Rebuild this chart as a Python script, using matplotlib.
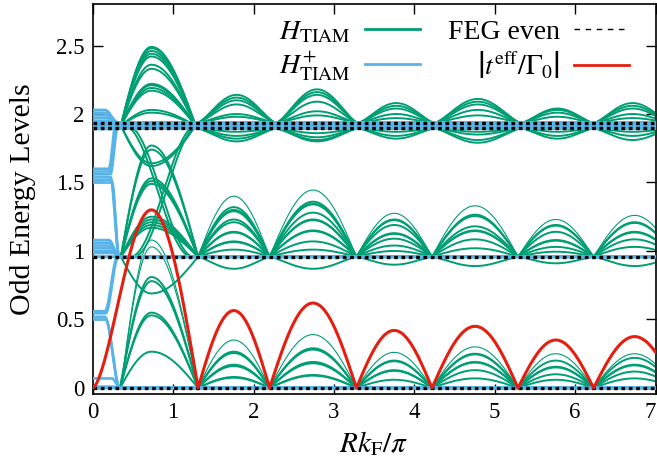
import numpy as np
import matplotlib
matplotlib.use('Agg')
import matplotlib.pyplot as plt
from matplotlib.lines import Line2D
from matplotlib import ticker

plt.rcParams['font.family'] = ['Liberation Serif', 'DejaVu Serif']
plt.rcParams['mathtext.fontset'] = 'stix'

GREEN = '#009e73'
BLUE = '#56b4e9'
RED = '#e51e10'

# ---------------- data ----------------
NODES_LOW = [1.31, 2.20, 3.28, 4.22, 5.29, 6.23, 7.25]     # lower / middle band nodes
NODES_UP = [1.30, 2.28, 3.30, 4.25, 5.33, 6.23, 7.20]      # upper band nodes
FEG_LEVELS = [0.0, 0.958, 1.895, 1.935]

# red |t_eff/Gamma0|
RED_LOBE0 = [0.0, 0.73, 1.31]     # start, peak position, end
RED_PEAK0 = 1.30
RED_PEAKS = [0.565, 0.62, 0.42, 0.45, 0.35, 0.375]

# lower band peaks per lobe (first entry is thin)
LOW_PEAKS = [
    [0.35, 0.265, 0.255, 0.17, 0.16, 0.08, 0.075],
    [0.39, 0.29, 0.28, 0.19, 0.18, 0.095, 0.09],
    [0.26, 0.20, 0.195, 0.13, 0.125, 0.06],
    [0.30, 0.25, 0.245, 0.19, 0.185, 0.13, 0.07],
    [0.25, 0.20, 0.155, 0.15, 0.10, 0.06],
    [0.25, 0.22, 0.17, 0.165, 0.12, 0.07],
]
# middle band peaks per lobe (above 0.958) and dips
MID_PEAKS = [
    [1.40, 1.32, 1.30, 1.29, 1.23, 1.21, 1.14, 1.135, 1.07, 1.065, 1.01],
    [1.445, 1.36, 1.345, 1.34, 1.28, 1.23, 1.225, 1.15, 1.145, 1.07, 1.01],
    [1.275, 1.23, 1.225, 1.19, 1.13, 1.125, 1.09, 1.04, 1.0],
    [1.33, 1.265, 1.255, 1.18, 1.15, 1.145, 1.085, 1.02],
    [1.23, 1.19, 1.185, 1.14, 1.08, 1.075, 1.03, 0.995],
    [1.26, 1.21, 1.205, 1.14, 1.135, 1.085, 1.03],
]
MID_DIPS = [0.87, 0.87, 0.90, 0.89, 0.91, 0.89]
# upper band per lobe
UP_PEAKS = [
    [2.14, 2.12, 2.10, 2.07, 2.00, 1.98],
    [2.18, 2.16, 2.14, 2.09, 2.02, 1.99],
    [2.08, 2.06, 2.04, 2.00, 1.97],
    [2.11, 2.09, 2.07, 2.03, 1.99],
    [2.04, 2.03, 2.01, 1.98],
    [2.08, 2.06, 2.04, 2.00, 1.97],
]
UP_DIPS = [
    [1.87, 1.84, 1.82, 1.80],
    [1.86, 1.83, 1.81, 1.80],
    [1.87, 1.84, 1.82],
    [1.87, 1.85, 1.81, 1.79],
    [1.87, 1.84, 1.82],
    [1.87, 1.84, 1.81],
]
# first lobe (0.34 .. 1.31, extremum near 0.73)
FIRST_LOBE = [0.34, 0.73, 1.31]
FIRST_LOW = [0.265, 0.53, 0.55, 0.78, 0.81]
FIRST_LOW_THIN = [1.03, 1.08]
FIRST_MID = [1.17, 1.19, 1.21, 1.23, 1.25, 1.49, 1.51, 1.53, 1.74, 1.77]
FIRST_MID_DIP = [0.69]
FIRST_UP = [2.49, 2.48, 2.46, 2.44, 2.42, 2.36, 2.33, 2.22, 2.21, 2.19, 2.17, 2.03, 2.01]
FIRST_UP_DIP = [1.64, 1.62]
FIRST_CROSS = [(1.915, 0.958), (1.915, 0.958), (0.958, 1.915), (0.958, 1.915)]

# blue H+_TIAM: start level, transition start, transition end, final level
BLUE_START = [2.03, 2.01, 1.99, 1.97, 1.95, 1.93, 1.91, 1.89,
              1.60, 1.58, 1.56, 1.54, 1.52, 1.50,
              1.08, 1.06, 1.04, 1.02, 1.00, 0.985,
              0.56, 0.545, 0.52, 0.50, 0.07, 0.01]
BLUE_XS = [0.15, 0.16, 0.17, 0.18, 0.19, 0.20, 0.20, 0.20,
           0.20, 0.21, 0.22, 0.22, 0.23, 0.24,
           0.20, 0.21, 0.22, 0.23, 0.24, 0.25,
           0.15, 0.16, 0.15, 0.16, 0.24, 0.25]
BLUE_XE = [0.32, 0.32, 0.32, 0.32, 0.32, 0.32, 0.32, 0.32,
           0.29, 0.30, 0.31, 0.33, 0.33, 0.33,
           0.33, 0.33, 0.33, 0.33, 0.33, 0.33,
           0.31, 0.32, 0.34, 0.34, 0.34, 0.34]
BLUE_END = [1.935, 1.935, 1.935, 1.915, 1.915, 1.915, 1.895, 1.895,
            1.935, 1.915, 1.895, 0.958, 0.958, 0.958,
            0.958, 0.958, 0.958, 0.958, 0.958, 0.958,
            0.958, 0.958, 0.0, 0.0, 0.0, 0.0]

XTICKS = [0, 1, 2, 3, 4, 5, 6, 7]
YTICKS = [0, 0.5, 1, 1.5, 2, 2.5]


# ---------------- helpers ----------------
x = np.linspace(0, 7, 4000)


def bump(a, c, b, p=1.0):
    y = np.full_like(x, np.nan)
    m1 = (x >= a) & (x <= c)
    y[m1] = np.sin(0.5 * np.pi * (x[m1] - a) / (c - a)) ** p
    m2 = (x > c) & (x <= b)
    y[m2] = np.sin(0.5 * np.pi * (b - x[m2]) / (b - c)) ** p
    return y


def step(a, b):
    s = np.clip((x - a) / (b - a), 0, 1)
    return 0.5 - 0.5 * np.cos(np.pi * s)


fig = plt.figure(figsize=(6.57, 4.66), dpi=100)
ax = fig.add_axes([92.7 / 657, 1 - 394 / 466, (655.5 - 92.7) / 657, (394 - 4) / 466])

gk = dict(color=GREEN, zorder=2, solid_capstyle='butt')
THICK, THIN = 1.4, 0.8

# first lobe
a0, c0, b0 = FIRST_LOBE
for pk in FIRST_LOW:
    ax.plot(x, 0 + pk * bump(a0, c0, b0), lw=THICK, **gk)
for pk in FIRST_LOW_THIN:
    ax.plot(x, 0 + pk * bump(a0 + 0.01, c0, b0), lw=THIN, **gk)
for pk in FIRST_MID + FIRST_MID_DIP:
    ax.plot(x, 0.958 + (pk - 0.958) * bump(a0 + 0.01, c0, b0), lw=THICK, **gk)
for pk in FIRST_UP + FIRST_UP_DIP:
    ax.plot(x, 1.915 + (pk - 1.915) * bump(a0 + 0.01, c0, b0 - 0.03), lw=THICK, **gk)
for k, (s, e) in enumerate(FIRST_CROSS):
    aa, bb = a0 + 0.05 + 0.04 * k, b0 - 0.08 + 0.03 * k
    yy = s + (e - s) * step(aa, bb)
    yy[(x < a0) | (x > b0)] = np.nan
    ax.plot(x, yy, lw=THICK, **gk)

# later lobes
for i in range(6):
    a, b = NODES_LOW[i], NODES_LOW[i + 1]
    c = 0.5 * (a + b)
    for j, pk in enumerate(LOW_PEAKS[i]):
        ax.plot(x, pk * bump(a, c, b), lw=THIN if j == 0 else THICK, **gk)
    for j, pk in enumerate(MID_PEAKS[i]):
        ax.plot(x, 0.958 + (pk - 0.958) * bump(a, c, b), lw=THIN if j == 0 else THICK, **gk)
    ax.plot(x, 0.958 + (MID_DIPS[i] - 0.958) * bump(a, c, b, 1.3), lw=THICK, **gk)
    au, bu = NODES_UP[i], NODES_UP[i + 1]
    cu = 0.5 * (au + bu)
    for pk in UP_PEAKS[i]:
        ax.plot(x, 1.935 + (pk - 1.935) * bump(au, cu, bu, 1.4), lw=THICK, **gk)
    for pk in UP_DIPS[i]:
        ax.plot(x, 1.895 + (pk - 1.895) * bump(au, cu, bu, 1.4), lw=THICK, **gk)

# blue
for y0, xs, xe, y1 in zip(BLUE_START, BLUE_XS, BLUE_XE, BLUE_END):
    ax.plot(x, y0 + (y1 - y0) * step(xs, xe), color=BLUE, lw=1.9, zorder=3)
for lev in FEG_LEVELS + [1.915]:
    ax.plot(x, np.full_like(x, lev), color=BLUE, lw=2.2, zorder=3)

# FEG even
for lev in FEG_LEVELS:
    ax.plot([0, 7], [lev, lev], color='black', lw=2.4, zorder=4,
            linestyle=(0, (1.1, 1.1)), dash_capstyle='butt')

# red
r = RED_PEAK0 * np.nan_to_num(bump(RED_LOBE0[0], RED_LOBE0[1], RED_LOBE0[2]))
m = x <= RED_LOBE0[1]
r[m] = RED_PEAK0 * np.sin(0.5 * np.pi * x[m] / RED_LOBE0[1]) ** 1.6
for i in range(6):
    a, b = NODES_LOW[i], NODES_LOW[i + 1]
    r = r + RED_PEAKS[i] * np.nan_to_num(bump(a, 0.5 * (a + b), b))
ax.plot(x, r, color=RED, lw=2.2, zorder=5)

ax.set_xlim(0, 7)
ax.set_ylim(-0.044, 2.803)
ax.set_xticks(XTICKS)
ax.set_yticks(YTICKS)
ax.yaxis.set_major_formatter(ticker.FormatStrFormatter('%g'))
ax.tick_params(direction='in', top=True, right=True, length=7, width=1,
               labelsize=16.5, pad=6)
fig.canvas.draw()
ax.get_xticklabels()[-1].set_horizontalalignment('right')
for sp in ax.spines.values():
    sp.set_linewidth(1.2)
ax.set_xlabel(r'$Rk_{\rm F}/\pi$', fontsize=21, labelpad=4)
ax.set_ylabel('Odd Energy Levels', fontsize=21.5, labelpad=14)

handles = [Line2D([], [], color=GREEN, lw=2),
           Line2D([], [], color=BLUE, lw=2),
           Line2D([], [], color='black', lw=1, dashes=(4, 4)),
           Line2D([], [], color=RED, lw=2)]
labels = [r'$H_{\rm TIAM}$', r'$H^{+}_{\rm TIAM}$', 'FEG even',
          r'$\left|t^{\rm eff}/\Gamma_0\right|$']
ax.legend(handles, labels, ncol=2, markerfirst=False, frameon=False,
          loc='upper right', bbox_to_anchor=(0.988, 1.01), fontsize=20,
          handlelength=2.0, handletextpad=0.5, columnspacing=1.0,
          labelspacing=0.15, borderpad=0.2)

fig.savefig('out.png', dpi=100)
